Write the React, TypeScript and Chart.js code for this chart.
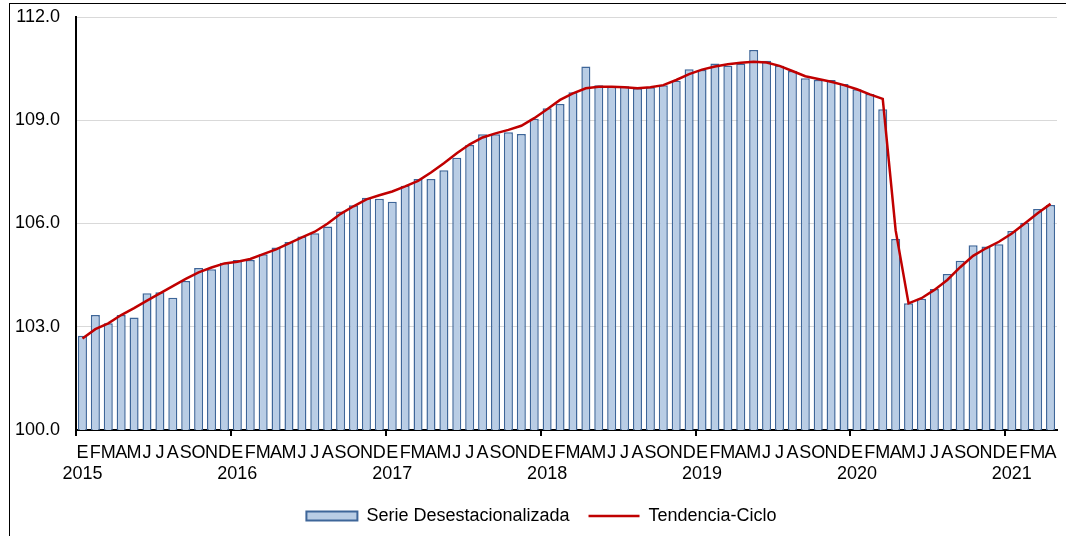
import React, { useEffect, useRef } from "react";
import { Chart, registerables } from "chart.js";

Chart.register(...registerables);

const MONTHS = ["E", "F", "M", "A", "M", "J", "J", "A", "S", "O", "N", "D"];
const YEARS = ["2015", "2016", "2017", "2018", "2019", "2020", "2021"];

const SERIE_2015 = [102.74, 103.34, 103.1, 103.34, 103.27, 103.97, 104.0, 103.84, 104.33, 104.71, 104.67, 104.86];
const SERIE_2016 = [104.94, 104.94, 105.11, 105.3, 105.46, 105.62, 105.72, 105.91, 106.35, 106.53, 106.75, 106.72];
const SERIE_2017 = [106.63, 107.1, 107.29, 107.29, 107.55, 107.91, 108.28, 108.59, 108.59, 108.65, 108.6, 109.04];
const SERIE_2018 = [109.35, 109.47, 109.81, 110.56, 110.02, 109.97, 109.99, 109.93, 109.96, 110.02, 110.15, 110.48];
const SERIE_2019 = [110.46, 110.65, 110.58, 110.65, 111.04, 110.73, 110.58, 110.43, 110.22, 110.17, 110.17, 110.05];
const SERIE_2020 = [109.9, 109.76, 109.32, 105.55, 103.68, 103.81, 104.1, 104.53, 104.92, 105.37, 105.33, 105.4];
const SERIE_2021 = [105.78, 106.02, 106.42, 106.54];

const TREND_2015 = [102.66, 102.93, 103.1, 103.34, 103.54, 103.76, 103.97, 104.18, 104.39, 104.58, 104.72, 104.84];
const TREND_2016 = [104.89, 104.97, 105.11, 105.25, 105.42, 105.6, 105.76, 106.0, 106.28, 106.5, 106.7, 106.82];
const TREND_2017 = [106.93, 107.08, 107.24, 107.48, 107.75, 108.04, 108.3, 108.5, 108.62, 108.72, 108.84, 109.06];
const TREND_2018 = [109.32, 109.59, 109.78, 109.93, 109.97, 109.97, 109.96, 109.93, 109.96, 110.02, 110.17, 110.34];
const TREND_2019 = [110.47, 110.56, 110.63, 110.67, 110.7, 110.68, 110.58, 110.43, 110.28, 110.2, 110.12, 110.02];
const TREND_2020 = [109.9, 109.75, 109.62, 105.8, 103.68, 103.83, 104.07, 104.36, 104.73, 105.06, 105.28, 105.47];
const TREND_2021 = [105.71, 106.0, 106.3, 106.57];

const SERIE = [...SERIE_2015, ...SERIE_2016, ...SERIE_2017, ...SERIE_2018, ...SERIE_2019, ...SERIE_2020, ...SERIE_2021];
const TREND = [...TREND_2015, ...TREND_2016, ...TREND_2017, ...TREND_2018, ...TREND_2019, ...TREND_2020, ...TREND_2021];

const LABELS = SERIE.map((_, i) =>
  i % 12 === 0 ? [MONTHS[0], YEARS[i / 12]] : MONTHS[i % 12]
);

const Y_MIN = 100;
const Y_MAX = 112;
const Y_STEP = 3;

const BAR_FILL = "#b9cde5";
const BAR_BORDER = "#3e6699";
const LINE_COLOR = "#c00000";
const FONT = "'Liberation Sans', Arial, Helvetica, sans-serif";

const legendShift = {
  id: "legendShift",
  afterLayout(chart: any) {
    const l = chart.legend;
    if (l) {
      l.left += 13;
      l.right += 13;
    }
  },
};

export default function App() {
  const ref = useRef<HTMLCanvasElement | null>(null);

  useEffect(() => {
    if (!ref.current) return;
    Chart.defaults.font.family = FONT;
    const chart = new Chart(ref.current, {
      type: "bar",
      plugins: [legendShift],
      data: {
        labels: LABELS,
        datasets: [
          {
            type: "bar",
            label: "Serie Desestacionalizada",
            data: SERIE,
            backgroundColor: BAR_FILL,
            borderColor: BAR_BORDER,
            borderWidth: 1.5,
            barPercentage: 0.7,
            categoryPercentage: 1.0,
            order: 1,
          },
          {
            type: "line",
            label: "Tendencia-Ciclo",
            data: TREND,
            borderColor: LINE_COLOR,
            backgroundColor: LINE_COLOR,
            borderWidth: 2.5,
            pointRadius: 0,
            tension: 0,
            fill: false,
            order: 0,
          },
        ],
      } as any,
      options: {
        responsive: false,
        animation: false,
        layout: { padding: { left: 0, right: 9, top: 17, bottom: 25 } },
        plugins: {
          tooltip: { enabled: false },
          legend: {
            position: "bottom",
            labels: {
              usePointStyle: true,
              pointStyleWidth: 51,
              boxHeight: 9,
              padding: 19,
              color: "#000",
              font: { size: 18, family: FONT },
              generateLabels: (c: any) => [
                {
                  text: c.data.datasets[0].label,
                  fillStyle: BAR_FILL,
                  strokeStyle: BAR_BORDER,
                  lineWidth: 2,
                  pointStyle: "rect",
                  datasetIndex: 0,
                  hidden: false,
                  fontColor: "#000",
                },
                {
                  text: c.data.datasets[1].label,
                  fillStyle: LINE_COLOR,
                  strokeStyle: LINE_COLOR,
                  lineWidth: 2.5,
                  pointStyle: "line",
                  datasetIndex: 1,
                  hidden: false,
                  fontColor: "#000",
                },
              ],
            },
          },
        },
        scales: {
          x: {
            offset: true,
            grid: {
              offset: true,
              drawOnChartArea: false,
              drawTicks: true,
              tickLength: 6,
              lineWidth: 2,
              color: (ctx: any) =>
                typeof ctx.index === "number" && ctx.index % 12 === 0 ? "#000" : "rgba(0,0,0,0)",
            },
            border: { color: "#000", width: 2 },
            ticks: {
              autoSkip: false,
              maxRotation: 0,
              minRotation: 0,
              padding: 6,
              color: "#000",
              font: { size: 18, family: FONT },
            },
            afterFit: (s: any) => {
              s.height = 58;
            },
          },
          y: {
            min: Y_MIN,
            max: Y_MAX,
            ticks: {
              stepSize: Y_STEP,
              padding: 0,
              color: "#000",
              font: { size: 18, family: FONT },
              callback: (v: any) => Number(v).toFixed(1),
            },
            grid: {
              color: "#d9d9d9",
              lineWidth: 1,
              drawTicks: true,
              tickLength: 16,
              tickColor: "rgba(0,0,0,0)",
            },
            border: { color: "#000", width: 2 },
            afterFit: (s: any) => {
              s.width = 76;
            },
          },
        },
      } as any,
    });
    return () => chart.destroy();
  }, []);

  return (
    <div
      style={{
        position: "fixed",
        left: 0,
        top: 0,
        width: 1066,
        height: 536,
        overflow: "hidden",
        background: "#fff",
      }}
    >
      <div
        style={{
          position: "absolute",
          left: 9,
          top: 3,
          width: 1200,
          height: 700,
          borderLeft: "1.5px solid #000",
          borderTop: "1.5px solid #000",
        }}
      />
      <canvas
        ref={ref}
        width={1066}
        height={560}
        style={{ position: "absolute", left: 0, top: 0, width: 1066, height: 560 }}
      />
    </div>
  );
}
